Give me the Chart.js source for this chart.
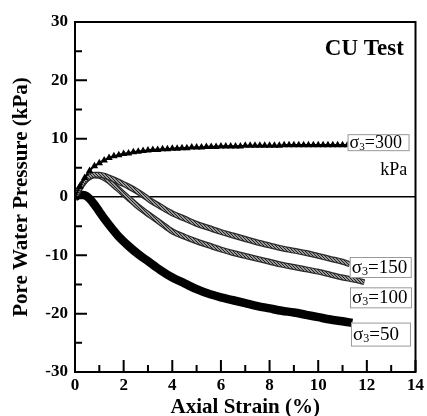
<!DOCTYPE html>
<html>
<head>
<meta charset="utf-8">
<script src="https://cdn.jsdelivr.net/npm/chart.js@4"></script>
<style>
  html, body { margin: 0; padding: 0; background: #fff; }
  #wrap { width: 427px; height: 416px; position: relative; }
</style>
</head>
<body>
<div id="wrap"><canvas id="chart"></canvas></div>
<script>
// sigma3 = 300 kPa (filled triangles)
const strain300 = [0,0.2,0.4,0.6,0.8,1.0,1.2,1.4,1.6,1.8,2.0,2.2,2.4,2.6,2.8,3.0,3.2,3.4,3.6,3.8,4.0,4.2,4.4,4.6,4.8,5.0,5.2,5.4,5.6,5.8,6.0,6.2,6.4,6.6,6.8,7.0,7.2,7.4,7.6,7.8,8.0,8.2,8.4,8.6,8.8,9.0,9.2,9.4,9.6,9.8,10.0,10.2,10.4,10.6,10.8,11.0,11.2];
const pwp300 = [0,1.8,3.3,4.5,5.3,5.8,6.3,6.7,7.0,7.2,7.4,7.5,7.7,7.8,7.9,8.0,8.1,8.1,8.2,8.2,8.3,8.3,8.4,8.4,8.5,8.5,8.5,8.6,8.6,8.6,8.7,8.7,8.7,8.7,8.7,8.8,8.8,8.8,8.8,8.8,8.8,8.8,8.8,8.9,8.9,8.9,8.9,8.9,8.9,8.9,8.9,8.9,8.9,8.9,8.9,8.9,8.9];

// sigma3 = 150 kPa
const strain150 = [0,0.2,0.4,0.6,0.8,1.0,1.3,1.6,1.9,2.2,2.5,2.8,3.1,3.5,4.0,4.5,5.0,5.5,6.0,6.5,7.0,7.5,8.0,8.5,9.0,9.5,10.0,10.5,11.0,11.3];
const pwp150 = [0,1.6,2.8,3.5,3.8,3.8,3.5,3.0,2.4,1.8,1.1,0.3,-0.6,-1.6,-2.8,-3.7,-4.6,-5.3,-6.0,-6.6,-7.2,-7.8,-8.3,-8.8,-9.2,-9.6,-10.1,-10.6,-11.1,-11.5];

// sigma3 = 100 kPa
const strain100 = [0,0.2,0.4,0.6,0.8,1.0,1.3,1.6,1.9,2.2,2.5,2.8,3.1,3.5,4.0,4.5,5.0,5.5,6.0,6.5,7.0,7.5,8.0,8.5,9.0,9.5,10.0,10.5,11.0,11.5,11.9];
const pwp100 = [0,1.5,2.7,3.4,3.7,3.6,3.0,2.0,0.9,-0.2,-1.3,-2.3,-3.2,-4.4,-5.9,-6.8,-7.6,-8.3,-9.0,-9.6,-10.1,-10.6,-11.1,-11.6,-12.0,-12.4,-12.8,-13.3,-13.8,-14.2,-14.6];

// sigma3 = 50 kPa
const strain50 = [0,0.2,0.4,0.6,0.8,1.0,1.2,1.5,1.8,2.2,2.6,3.0,3.5,4.0,4.5,5.0,5.5,6.0,6.5,7.0,7.5,8.0,8.5,9.0,9.5,10.0,10.5,11.0,11.4];
const pwp50 = [0,0.4,0.3,-0.3,-1.3,-2.5,-3.7,-5.3,-6.8,-8.4,-9.8,-11.0,-12.5,-13.8,-14.8,-15.8,-16.6,-17.2,-17.7,-18.2,-18.7,-19.1,-19.5,-19.8,-20.2,-20.6,-21.0,-21.3,-21.6];

const curveLabels = [
  { value: '300', x: 12.46, y: 9.4, size: 18, width: 61, height: 16 },
  { value: '150', x: 12.55, y: -12.0, size: 19, width: 61, height: 20 },
  { value: '100', x: 12.56, y: -17.2, size: 19, width: 61, height: 20 },
  { value: '50', x: 12.56, y: -23.5, size: 19, width: 59, height: 23 }
];

const serif = '"Liberation Serif", "Times New Roman", serif';

const toPoints = (xs, ys) => xs.map((x, i) => ({ x: x, y: ys[i] }));

// speckled fill for the open-marker bands
const makePattern = () => {
  const pc = document.createElement('canvas');
  pc.width = 3; pc.height = 3;
  const p = pc.getContext('2d');
  p.fillStyle = '#9a9a9a';
  p.fillRect(0, 0, 3, 3);
  p.fillStyle = '#222';
  p.fillRect(0, 0, 1, 1);
  p.fillRect(1, 1, 1, 1);
  p.fillRect(2, 2, 1, 1);
  return p.createPattern(pc, 'repeat');
};
const speckle = makePattern();

const frameAndTicks = {
  id: 'frameAndTicks',
  afterDatasetsDraw(chart) {
    const { ctx, chartArea: a, scales } = chart;
    ctx.save();
    ctx.strokeStyle = '#000';
    ctx.lineWidth = 2;
    ctx.strokeRect(a.left, a.top, a.right - a.left, a.bottom - a.top);

    ctx.beginPath();
    scales.y.ticks.forEach(t => {
      const py = scales.y.getPixelForValue(t.value);
      const len = t.value % 10 === 0 ? 12 : 7;
      ctx.moveTo(a.left, py);
      ctx.lineTo(a.left + len, py);
    });
    scales.x.ticks.forEach(t => {
      const px = scales.x.getPixelForValue(t.value);
      const len = t.value % 2 === 0 ? 12 : 7;
      ctx.moveTo(px, a.bottom);
      ctx.lineTo(px, a.bottom - len);
    });
    ctx.stroke();

    // curve labels
    curveLabels.forEach(l => {
      const cx = scales.x.getPixelForValue(l.x);
      const cy = scales.y.getPixelForValue(l.y);
      const left = cx - l.width / 2;
      ctx.fillStyle = '#fff';
      ctx.fillRect(left, cy - l.height / 2, l.width, l.height);
      ctx.strokeStyle = '#999';
      ctx.lineWidth = 1;
      ctx.strokeRect(left + 0.5, cy - l.height / 2 + 0.5, l.width, l.height);

      ctx.fillStyle = '#000';
      ctx.textBaseline = 'middle';
      ctx.textAlign = 'left';
      let x = left + 2;
      ctx.font = `${l.size}px ${serif}`;
      ctx.fillText('σ', x, cy + 1);
      x += ctx.measureText('σ').width;
      ctx.font = `${Math.round(l.size * 0.62)}px ${serif}`;
      ctx.fillText('3', x, cy + l.size * 0.25);
      x += ctx.measureText('3').width;
      ctx.font = `${l.size}px ${serif}`;
      ctx.fillText('=' + l.value, x, cy + 1);
    });

    ctx.font = `18px ${serif}`;
    ctx.textAlign = 'right';
    ctx.textBaseline = 'middle';
    ctx.fillText('kPa', scales.x.getPixelForValue(13.66), scales.y.getPixelForValue(4.5));

    ctx.font = `bold 23px ${serif}`;
    ctx.textBaseline = 'alphabetic';
    ctx.fillText('CU Test', scales.x.getPixelForValue(13.52), scales.y.getPixelForValue(24.3));
    ctx.restore();
  }
};

const lineDefaults = {
  pointRadius: 0,
  fill: false,
  cubicInterpolationMode: 'monotone'
};

new Chart(document.getElementById('chart'), {
  type: 'line',
  data: {
    datasets: [
      { ...lineDefaults, label: '300', data: toPoints(strain300, pwp300), borderColor: '#000', borderWidth: 2,
        pointRadius: 4.3, pointStyle: 'triangle', pointBackgroundColor: '#000', pointBorderWidth: 0, order: 0 },
      { ...lineDefaults, label: '150 inner', data: toPoints(strain150, pwp150), borderColor: speckle, borderWidth: 3.5, order: 1 },
      { ...lineDefaults, label: '150', data: toPoints(strain150, pwp150), borderColor: '#2a2a2a', borderWidth: 6, order: 2 },
      { ...lineDefaults, label: '100 inner', data: toPoints(strain100, pwp100), borderColor: speckle, borderWidth: 3.5, order: 3 },
      { ...lineDefaults, label: '100', data: toPoints(strain100, pwp100), borderColor: '#2a2a2a', borderWidth: 6, order: 4 },
      { ...lineDefaults, label: '50', data: toPoints(strain50, pwp50), borderColor: '#000', borderWidth: 8.5, order: 5 }
    ]
  },
  options: {
    responsive: true,
    maintainAspectRatio: false,
    animation: false,
    layout: { padding: { top: 22, right: 8, left: 0, bottom: 0 } },
    plugins: { legend: { display: false }, tooltip: { enabled: false } },
    scales: {
      x: {
        type: 'linear',
        min: 0, max: 14,
        afterFit: s => { s.height = 44; },
        grid: { display: false, drawTicks: false },
        border: { display: true, color: '#000', width: 2 },
        ticks: {
          stepSize: 1,
          padding: 3,
          color: '#000',
          font: { family: serif, size: 17, weight: 'bold' },
          callback: v => (v % 2 === 0 ? v : '')
        },
        title: {
          display: true,
          text: 'Axial Strain (%)',
          color: '#000',
          font: { family: serif, size: 21, weight: 'bold' },
          padding: { top: 0, bottom: -4 }
        }
      },
      y: {
        min: -30, max: 30,
        afterFit: s => { s.width = 75; },
        grid: {
          drawTicks: false,
          color: c => (c.tick && c.tick.value === 0 ? '#000' : 'rgba(0,0,0,0)'),
          lineWidth: 1.5
        },
        border: { display: true, color: '#000', width: 2 },
        ticks: {
          stepSize: 5,
          padding: 7,
          color: '#000',
          font: { family: serif, size: 17, weight: 'bold' },
          callback: v => (v % 10 === 0 ? v : '')
        },
        title: {
          display: true,
          text: 'Pore Water Pressure (kPa)',
          color: '#000',
          font: { family: serif, size: 21, weight: 'bold' },
          padding: { top: 9, bottom: 0 }
        }
      }
    }
  },
  plugins: [frameAndTicks]
});
</script>
</body>
</html>
